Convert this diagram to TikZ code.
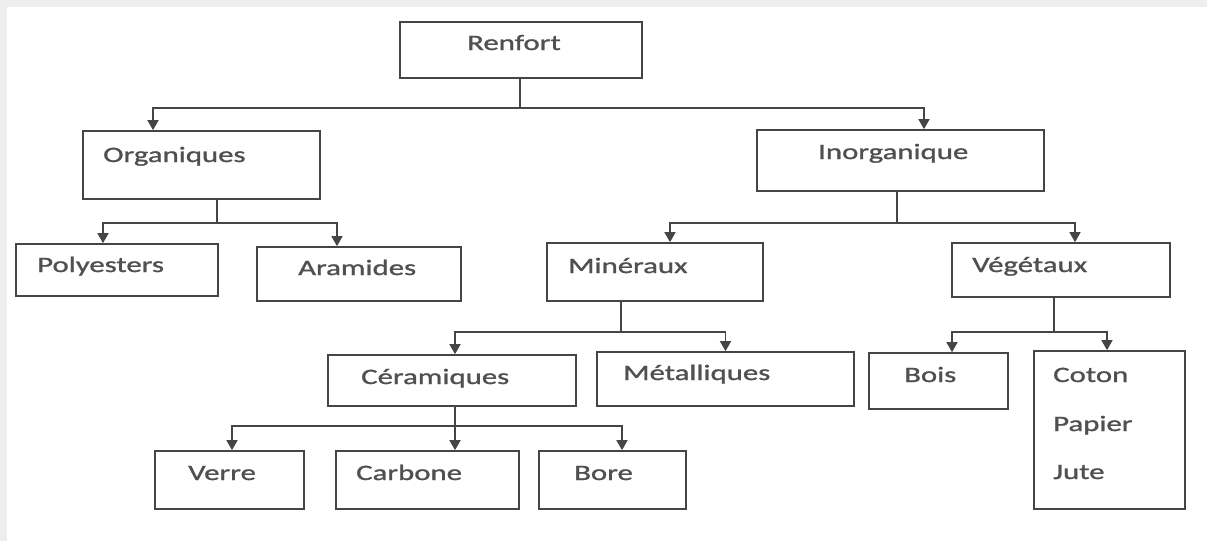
\documentclass[tikz,border=0pt]{standalone}
\usepackage{fontspec}
\setmainfont{Carlito}[FakeStretch=1.4,FakeBold=1.2]
\usetikzlibrary{arrows.meta}
\definecolor{linegray}{HTML}{454545}
\definecolor{textgray}{HTML}{505050}
\definecolor{framegray}{HTML}{EEEEEE}

\begin{document}
\begin{tikzpicture}[x=1pt,y=-1pt,>={Triangle[length=10pt,width=11pt]},
  box/.style={draw=linegray,line width=1.7pt,inner sep=0pt},
  txt/.style={anchor=base west,inner sep=0pt,text=textgray,font=\fontsize{22}{26}\selectfont},
  link/.style={draw=linegray,line width=1.6pt}]
\useasboundingbox (0,0) rectangle (1207,541);
\fill[framegray] (0,0) rectangle (1207,541);
\fill[white] (7,7) rectangle (1207,541);

% boxes
\node[box,minimum width=242,minimum height=56] (renfort) at (521,50) {};
\node[box,minimum width=237,minimum height=68] (organiques) at (201.5,165) {};
\node[box,minimum width=287,minimum height=61] (inorganique) at (900.5,160.5) {};
\node[box,minimum width=202,minimum height=52] (polyesters) at (117,270) {};
\node[box,minimum width=204,minimum height=54] (aramides) at (359,274) {};
\node[box,minimum width=216,minimum height=58] (mineraux) at (655,272) {};
\node[box,minimum width=218,minimum height=54] (vegetaux) at (1061,270) {};
\node[box,minimum width=248,minimum height=51] (ceramiques) at (452,380.5) {};
\node[box,minimum width=257,minimum height=54] (metalliques) at (725.5,379) {};
\node[box,minimum width=139,minimum height=56] (bois) at (938.5,381) {};
\node[box,minimum width=151,minimum height=158] (fibres) at (1109.5,430) {};
\node[box,minimum width=149,minimum height=58] (verre) at (229.5,480) {};
\node[box,minimum width=183,minimum height=58] (carbone) at (427.5,480) {};
\node[box,minimum width=147,minimum height=58] (bore) at (612.5,480) {};

% texts
\node[txt] (renfort-t) at (467,50) {Renfort};
\node[txt] (organiques-t) at (103,162) {Organiques};
\node[txt] (inorganique-t) at (818,159) {Inorganique};
\node[txt] (polyesters-t) at (37,272) {Polyesters};
\node[txt] (aramides-t) at (298,275) {Aramides};
\node[txt] (mineraux-t) at (568,273) {Minéraux};
\node[txt] (vegetaux-t) at (972,272) {Végétaux};
\node[txt] (ceramiques-t) at (361,384) {Céramiques};
\node[txt] (metalliques-t) at (623,380) {Métalliques};
\node[txt] (bois-t) at (904,382) {Bois};
\node[txt] (coton-t) at (1053,382) {Coton};
\node[txt] (papier-t) at (1053,431) {Papier};
\node[txt] (jute-t) at (1053,479) {Jute};
\node[txt] (verre-t) at (188,480) {Verre};
\node[txt] (carbone-t) at (356,480) {Carbone};
\node[txt] (bore-t) at (574,480) {Bore};

% branch points
\coordinate (renfort-b) at (520,108);
\coordinate (organiques-b) at (217,223);
\coordinate (inorganique-b) at (897,223);
\coordinate (mineraux-b) at (621,332);
\coordinate (vegetaux-b) at (1054,332);
\coordinate (ceramiques-b) at (455,426);

% connectors
\draw[link] (renfort.south -| renfort-b) -- (renfort-b);
\draw[link,->] (renfort-b) -| ([xshift=-48.5pt]organiques.north);
\draw[link,->] (renfort-b) -| ([xshift=23.5pt]inorganique.north);

\draw[link] (organiques.south -| organiques-b) -- (organiques-b);
\draw[link,->] (organiques-b) -| ([xshift=-14pt]polyesters.north);
\draw[link,->] (organiques-b) -| ([xshift=-22pt]aramides.north);

\draw[link] (inorganique.south -| inorganique-b) -- (inorganique-b);
\draw[link,->] (inorganique-b) -| ([xshift=15pt]mineraux.north);
\draw[link,->] (inorganique-b) -| ([xshift=14pt]vegetaux.north);

\draw[link] (mineraux.south -| mineraux-b) -- (mineraux-b);
\draw[link,->] (mineraux-b) -| ([xshift=3pt]ceramiques.north);
\draw[link,->] (mineraux-b) -| (metalliques.north);

\draw[link] (vegetaux.south -| vegetaux-b) -- (vegetaux-b);
\draw[link,->] (vegetaux-b) -| ([xshift=13.5pt]bois.north);
\draw[link,->] (vegetaux-b) -| ([xshift=-2.5pt]fibres.north);

\draw[link] (ceramiques.south -| ceramiques-b) -- (ceramiques-b);
\draw[link,->] (ceramiques-b) -| ([xshift=2.5pt]verre.north);
\draw[link,->] (ceramiques-b) -- ([xshift=27.5pt]carbone.north);
\draw[link,->] (ceramiques-b) -| ([xshift=9.5pt]bore.north);
\end{tikzpicture}
\end{document}
